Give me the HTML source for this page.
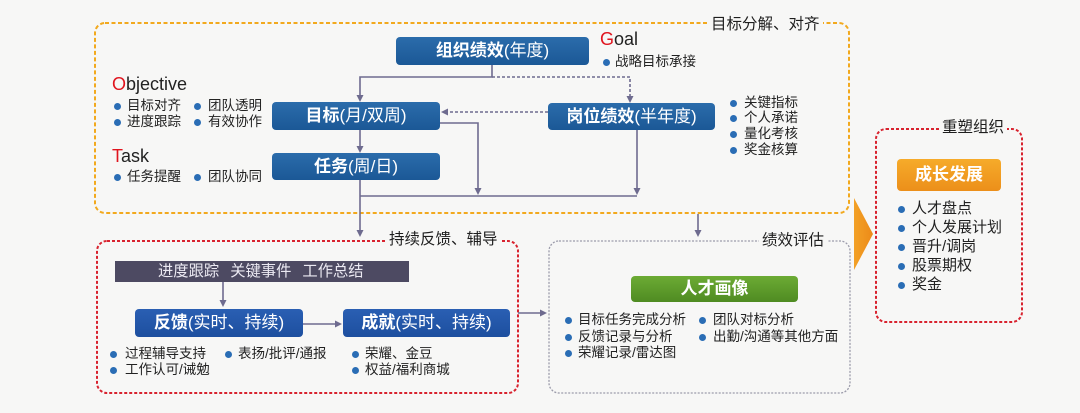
<!DOCTYPE html>
<html><head><meta charset="utf-8">
<style>
*{margin:0;padding:0;box-sizing:border-box}
body{width:1080px;height:413px;background:#f7f7f6;position:relative;overflow:hidden;font-family:"Liberation Sans","Noto Sans CJK SC",sans-serif;color:#222}
.a{position:absolute;white-space:nowrap}
.box{position:absolute;display:flex;align-items:center;justify-content:center;color:#fff;border-radius:4px;white-space:nowrap;font-size:17px;line-height:20px}
.bl{background:linear-gradient(#2b6cab,#1b5896)}
.bl2{background:linear-gradient(#2a5fb3,#1d4f9f)}
.box b{font-weight:bold}
.box span{font-weight:normal}
.it{position:absolute;white-space:nowrap;font-size:13.5px;line-height:16px;height:16px}
.it i{position:absolute;left:0;top:4.5px;width:7px;height:7px;border-radius:50%;background:#2a6db5}
.it2{position:absolute;white-space:nowrap;font-size:15px;line-height:18px;height:18px}
.it2 i{position:absolute;left:0;top:5.5px;width:7px;height:7px;border-radius:50%;background:#2a6db5}
.lab{position:absolute;font-size:15.5px;line-height:18px;background:#f7f7f6;padding:0 3px;white-space:nowrap;color:#1e1e1e}
.ttl{position:absolute;font-size:18px;line-height:18px;white-space:nowrap;color:#222}
.ttl em{font-style:normal;color:#e0141e}
</style></head><body>

<svg width="1080" height="413" style="position:absolute;left:0;top:0">
<rect x="95" y="23" width="754" height="190" rx="10" fill="none" stroke="#f2a91e" stroke-width="2" stroke-dasharray="4 2.5"/>
<rect x="876" y="129" width="146" height="193" rx="10" fill="none" stroke="#d8232f" stroke-width="2" stroke-dasharray="3 2"/>
<rect x="97" y="241" width="421" height="152" rx="10" fill="none" stroke="#d8232f" stroke-width="2" stroke-dasharray="3 2"/>
<rect x="549" y="241" width="301" height="152" rx="10" fill="none" stroke="#9c9cab" stroke-width="1.3" stroke-dasharray="2 1.5"/>
<defs><linearGradient id="og" x1="0" y1="0" x2="1" y2="0"><stop offset="0" stop-color="#f3a126"/><stop offset="1" stop-color="#ec8a18"/></linearGradient></defs>
<polygon points="854,198 873,234 854,270" fill="url(#og)"/>
<g stroke="#6e6b8f" stroke-width="1.6" fill="none">
<path d="M492 65V77H360V96"/>
<path d="M492 77H630V97" stroke-dasharray="3 2"/>
<path d="M548 112H447" stroke-dasharray="3 2"/>
<path d="M440 123H478V189"/>
<path d="M637 130V189"/>
<path d="M360 130V147"/>
<path d="M360 180V231"/>
<path d="M360 196H637"/>
<path d="M698 214V231"/>
<path d="M223 282V301"/>
<path d="M303 324H336"/>
<path d="M518 313H541"/>
</g>
<g fill="#6e6b8f">
<polygon points="356.5,95 363.5,95 360,102"/>
<polygon points="626.5,96 633.5,96 630,103"/>
<polygon points="448,108.5 448,115.5 441,112"/>
<polygon points="474.5,188 481.5,188 478,195"/>
<polygon points="633.5,188 640.5,188 637,195"/>
<polygon points="356.5,146 363.5,146 360,153"/>
<polygon points="356.5,230 363.5,230 360,237"/>
<polygon points="694.5,230 701.5,230 698,237"/>
<polygon points="219.5,300 226.5,300 223,307"/>
<polygon points="335,320.5 335,327.5 342,324"/>
<polygon points="540,309.5 540,316.5 547,313"/>
</g>
</svg>

<!-- section labels -->
<div class="lab" style="left:708px;top:16px">目标分解、对齐</div>
<div class="lab" style="left:939px;top:119px">重塑组织</div>
<div class="lab" style="left:386px;top:231px">持续反馈、辅导</div>
<div class="lab" style="left:759px;top:232px">绩效评估</div>

<!-- top section boxes -->
<div class="box bl" style="left:396px;top:37px;width:193px;height:28px"><b>组织绩效</b><span>(年度)</span></div>
<div class="box bl" style="left:272px;top:102px;width:168px;height:28px"><b>目标</b><span>(月/双周)</span></div>
<div class="box bl" style="left:272px;top:153px;width:168px;height:27px"><b>任务</b><span>(周/日)</span></div>
<div class="box bl" style="left:548px;top:103px;width:167px;height:27px"><b>岗位绩效</b><span>(半年度)</span></div>

<!-- titles -->
<div class="ttl" style="left:112px;top:75px"><em>O</em>bjective</div>
<div class="ttl" style="left:112px;top:147px"><em>T</em>ask</div>
<div class="ttl" style="left:600px;top:30px"><em>G</em>oal</div>

<!-- Objective bullets -->
<div class="it" style="left:113.5px;top:98px;padding-left:13.5px"><i></i>目标对齐</div>
<div class="it" style="left:193.5px;top:98px;padding-left:14.5px"><i></i>团队透明</div>
<div class="it" style="left:113.5px;top:114px;padding-left:13.5px"><i></i>进度跟踪</div>
<div class="it" style="left:193.5px;top:114px;padding-left:14.5px"><i></i>有效协作</div>
<!-- Task bullets -->
<div class="it" style="left:113.5px;top:169px;padding-left:13.5px"><i></i>任务提醒</div>
<div class="it" style="left:193.5px;top:169px;padding-left:14.5px"><i></i>团队协同</div>
<!-- Goal bullet -->
<div class="it" style="left:602.5px;top:54px;padding-left:12.5px"><i></i>战略目标承接</div>
<!-- 岗位 bullets -->
<div class="it" style="left:729.5px;top:95px;padding-left:14.5px"><i></i>关键指标</div>
<div class="it" style="left:729.5px;top:110px;padding-left:14.5px"><i></i>个人承诺</div>
<div class="it" style="left:729.5px;top:126px;padding-left:14.5px"><i></i>量化考核</div>
<div class="it" style="left:729.5px;top:142px;padding-left:14.5px"><i></i>奖金核算</div>

<!-- right box -->
<div class="box" style="left:897px;top:159px;width:104px;height:32px;background:linear-gradient(#f6ab2a,#ec8f1a)"><b>成长发展</b></div>
<div class="it2" style="left:897.5px;top:200px;padding-left:14.5px"><i></i>人才盘点</div>
<div class="it2" style="left:897.5px;top:219px;padding-left:14.5px"><i></i>个人发展计划</div>
<div class="it2" style="left:897.5px;top:238px;padding-left:14.5px"><i></i>晋升/调岗</div>
<div class="it2" style="left:897.5px;top:257px;padding-left:14.5px"><i></i>股票期权</div>
<div class="it2" style="left:897.5px;top:276px;padding-left:14.5px"><i></i>奖金</div>

<!-- bottom-left -->
<div class="a" style="left:115px;top:261px;width:294px;height:21px;background:#4d4a62;color:#ebe9f2;font-size:15.3px;line-height:21px;padding-left:43px">进度跟踪<span style="margin-left:11px">关键事件</span><span style="margin-left:11px">工作总结</span></div>
<div class="box bl2" style="left:135px;top:309px;width:168px;height:28px"><b>反馈</b><span>(实时、持续)</span></div>
<div class="box bl2" style="left:343px;top:309px;width:167px;height:28px"><b>成就</b><span>(实时、持续)</span></div>
<div class="it" style="left:109.5px;top:346px;padding-left:15.5px"><i></i>过程辅导支持</div>
<div class="it" style="left:109.5px;top:362px;padding-left:15.5px"><i></i>工作认可/诫勉</div>
<div class="it" style="left:224.5px;top:346px;padding-left:13.5px"><i></i>表扬/批评/通报</div>
<div class="it" style="left:351.5px;top:346px;padding-left:13.5px"><i></i>荣耀、金豆</div>
<div class="it" style="left:351.5px;top:362px;padding-left:13.5px"><i></i>权益/福利商城</div>

<!-- bottom-middle -->
<div class="box" style="left:631px;top:276px;width:167px;height:26px;background:linear-gradient(#6cab34,#4f8b22)"><b>人才画像</b></div>
<div class="it" style="left:564.5px;top:312px;padding-left:13.5px"><i></i>目标任务完成分析</div>
<div class="it" style="left:564.5px;top:329px;padding-left:13.5px"><i></i>反馈记录与分析</div>
<div class="it" style="left:564.5px;top:345px;padding-left:13.5px"><i></i>荣耀记录/雷达图</div>
<div class="it" style="left:698.5px;top:312px;padding-left:14.5px"><i></i>团队对标分析</div>
<div class="it" style="left:698.5px;top:329px;padding-left:14.5px"><i></i>出勤/沟通等其他方面</div>

</body></html>
